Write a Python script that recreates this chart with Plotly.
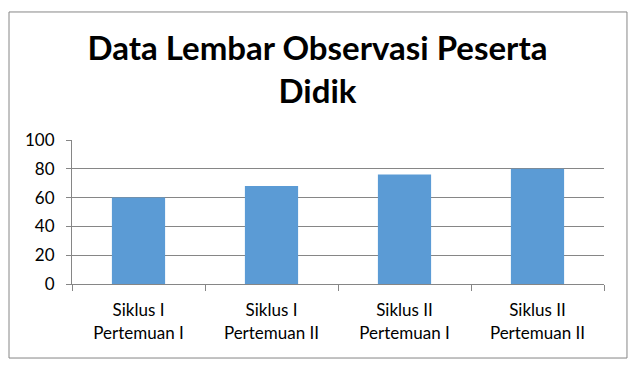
import plotly.graph_objects as go

categories = ["Siklus I<br>Pertemuan I", "Siklus I<br>Pertemuan II",
              "Siklus II<br>Pertemuan I", "Siklus II<br>Pertemuan II"]
values = [60, 68, 76, 80]
y_ticks = [0, 20, 40, 60, 80, 100]
title_text = "Data Lembar Observasi Peserta<br>Didik"

GRAY = "#868686"
fig = go.Figure()
fig.add_trace(go.Bar(x=categories, y=values, marker=dict(color="#5B9BD5", line=dict(width=0)),
                     width=0.4))

fig.update_layout(
    width=640, height=371,
    margin=dict(l=64, r=44, t=132, b=95),
    paper_bgcolor="white", plot_bgcolor="white",
    showlegend=False,
    font=dict(family="Lato, Calibri, sans-serif", size=17, color="#000000"),
    title=dict(text=title_text, x=0.4836, xanchor="center", xref="container",
               y=0.859, yanchor="middle", yref="container",
               font=dict(family="Lato, Calibri, sans-serif", size=33, color="#000000", weight="bold")),
    xaxis=dict(type="category", showline=True, linecolor=GRAY, linewidth=1,
               ticks="outside", tickson="boundaries", ticklen=6, tickcolor=GRAY,
               showgrid=False, tickfont=dict(size=17), ticklabelstandoff=11),
    yaxis=dict(range=[0, 100], tickvals=y_ticks, showline=True, linecolor=GRAY, linewidth=1,
               ticks="outside", ticklen=5, tickcolor=GRAY, gridcolor=GRAY, gridwidth=1,
               zeroline=False, tickfont=dict(size=17), ticklabelstandoff=8),
    shapes=[dict(type="rect", xref="paper", yref="paper",
                 x0=-0.1184, x1=1.0432, y0=-0.514, y1=1.889,
                 line=dict(color=GRAY, width=1), fillcolor="rgba(0,0,0,0)", layer="below")],
)

fig.write_html("out.html")
